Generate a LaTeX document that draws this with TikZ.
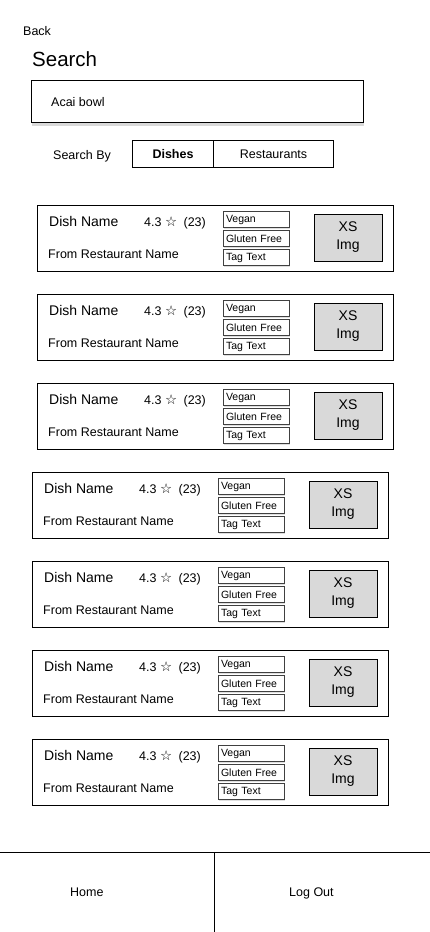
\documentclass[tikz,border=0pt]{standalone}
\usepackage{fontspec}
\setmainfont{Liberation Sans}
\newfontfamily\starfont{DejaVu Sans}
\usetikzlibrary{positioning,shadows}
\definecolor{imggray}{HTML}{D9D9D9}
\tikzset{
  txt/.style={inner sep=0pt, anchor=base west, font=\fontsize{12.5}{15}\selectfont},
  box/.style={draw, line width=1pt, fill=white, anchor=north west, inner sep=0pt},
  tagbox/.style={draw=black!75, fill=white, line width=0.8pt, text width=60pt, inner xsep=3pt, inner ysep=0pt,
    minimum height=16pt, align=left, font=\fontsize{10.5}{12}\selectfont,
    drop shadow={opacity=0.25, shadow xshift=0.5pt, shadow yshift=-1.5pt}},
  imgbox/.style={draw, fill=imggray, line width=0.8pt, minimum width=68pt, minimum height=47pt,
    inner sep=0pt, align=center, font=\fontsize{14}{18}\selectfont}
}

\begin{document}
\begin{tikzpicture}[x=1pt, y=-1pt]
    \useasboundingbox (0,0) rectangle (430,932);
    \node(B) [txt] at (23,35) {Back};
    \node(S) [txt, font=\fontsize{20.5}{24}\selectfont] at (32,66.5) {Search};
    \node(Q) [box, minimum width=332pt, minimum height=42pt,
      drop shadow={opacity=0.3, shadow xshift=0pt, shadow yshift=-3pt}] at (31,80) {};
    \node(A) [txt] at (51,106) {Acai bowl};
    \node(By) [txt] at (53,159.5) {Search By};
    \node(D) [box, minimum width=81pt, minimum height=27pt, font=\fontsize{12.5}{15}\selectfont\bfseries] at (132,140) {Dishes};
    \node(R) [box, minimum width=120pt, minimum height=27pt, font=\fontsize{12.5}{15}\selectfont] at (213,140) {Restaurants};

    \foreach \i/\x/\y in {1/37/205, 2/37/294, 3/37/383, 4/32/472, 5/32/561, 6/32/650, 7/32/739} {
      \node(C\i) [box, minimum width=356pt, minimum height=66pt] at (\x,\y) {};
      \node(N\i) [txt, font=\fontsize{14}{17}\selectfont] at (\x+12,\y+21.5) {Dish Name};
      \node(Ra\i) [txt] at (\x+107,\y+21.5) {4.3 {\starfont\fontsize{13.5}{15}\selectfont ☆}\hspace{3pt} (23)};
      \node(F\i) [txt] at (\x+11,\y+53.5) {From Restaurant Name};
      \node(V\i) [tagbox] at (\x+219,\y+14.5) {Vegan};
      \node(G\i) [tagbox, below=2.2pt of V\i] {Gluten Free};
      \node(T\i) [tagbox, below=2.2pt of G\i] {Tag Text};
      \node(I\i) [imgbox] at (\x+311,\y+32.5) {XS\\Img};
    }

    \coordinate(Bl) at (0,852);
    \coordinate(Br) at (430,852);
    \coordinate(Mt) at (214,852);
    \coordinate(Mb) at (214,932);
    \draw[line width=1pt](Bl) -- (Br);
    \draw[line width=1pt](Mt) -- (Mb);
    \node(H) [txt] at (70,896.5) {Home};
    \node(O) [txt] at (289,896.5) {Log Out};
\end{tikzpicture}
\end{document}
